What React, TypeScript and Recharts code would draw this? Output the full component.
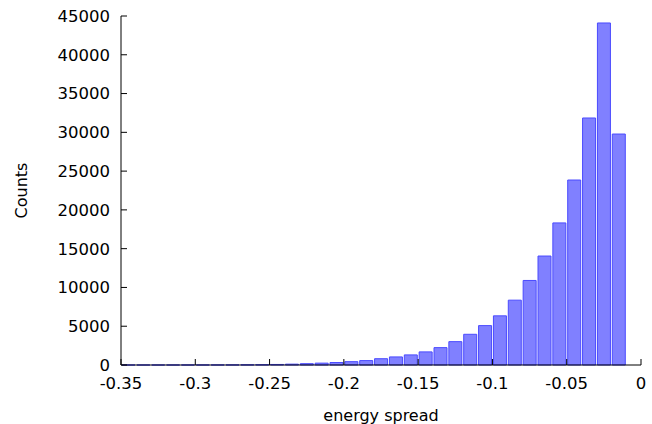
import { Bar, BarChart, XAxis, YAxis } from "recharts";

const binCenters = [
  -0.345, -0.335, -0.325, -0.315, -0.305, -0.295, -0.285, -0.275, -0.265, -0.255,
  -0.245, -0.235, -0.225, -0.215, -0.205, -0.195, -0.185, -0.175, -0.165, -0.155,
  -0.145, -0.135, -0.125, -0.115, -0.105, -0.095, -0.085, -0.075, -0.065, -0.055,
  -0.045, -0.035, -0.025, -0.015
];
const counts = [
  1, 2, 2, 3, 5, 7, 10, 15, 25, 40,
  70, 110, 170, 240, 320, 430, 570, 810, 1040, 1300,
  1690, 2240, 3010, 3960, 5080, 6340, 8360, 10900, 14050, 18320,
  23850, 31850, 44100, 29780
];
const xTicks = [-0.35, -0.3, -0.25, -0.2, -0.15, -0.1, -0.05, 0];
const yTicks = [0, 5000, 10000, 15000, 20000, 25000, 30000, 35000, 40000, 45000];

const data = binCenters.map((x, i) => ({ x, count: counts[i] }));

const font = "DejaVu Sans";
const tickStyle = { fill: "#000", fontSize: 16.5, fontFamily: font };
const labelStyle = { fill: "#000", fontSize: 16, fontFamily: font, textAnchor: "middle" as const };

export default function App() {
  return (
    <div style={{ position: "absolute", left: 0, top: 0, width: 652, height: 424, background: "#fff" }}>
      <BarChart width={652} height={424} data={data} margin={{ top: 16, right: 11, bottom: 0, left: 0 }}>
        <XAxis
          xAxisId="bottom"
          dataKey="x"
          type="number"
          domain={[-0.35, 0]}
          ticks={xTicks}
          allowDataOverflow
          height={59}
          stroke="#000"
          tickSize={-6}
          tickMargin={18}
          tick={tickStyle}
          label={{ value: "energy spread", position: "insideBottom", offset: 3, style: labelStyle }}
        />
        <XAxis
          xAxisId="top"
          orientation="top"
          dataKey="x"
          type="number"
          domain={[-0.35, 0]}
          ticks={xTicks}
          allowDataOverflow
          height={0}
          stroke="#000"
          tickSize={-6}
          tick={false}
        />
        <YAxis
          yAxisId="left"
          type="number"
          domain={[0, 45000]}
          ticks={yTicks}
          width={121}
          stroke="#000"
          tickSize={-6}
          tickMargin={17}
          tick={tickStyle}
          label={{ value: "Counts", angle: -90, position: "insideLeft", offset: 21, style: labelStyle }}
        />
        <YAxis
          yAxisId="right"
          orientation="right"
          type="number"
          domain={[0, 45000]}
          ticks={yTicks}
          width={0}
          stroke="#000"
          tickSize={-6}
          tick={false}
        />
        <Bar
          xAxisId="bottom"
          yAxisId="left"
          dataKey="count"
          barSize={13}
          fill="#8080ff"
          stroke="#4a4aff"
          strokeWidth={1}
          isAnimationActive={false}
        />
      </BarChart>
    </div>
  );
}
